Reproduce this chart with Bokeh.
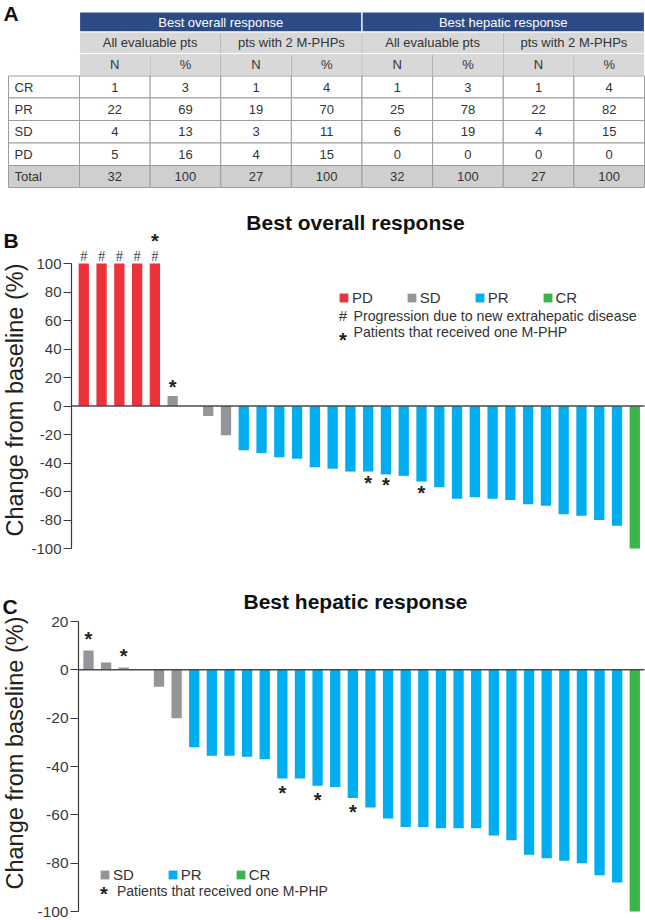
import math
from bokeh.plotting import figure
from bokeh.models import (Range1d, LinearAxis, FixedTicker, ColumnDataSource, Legend, LegendItem)
from bokeh.embed import file_html
from bokeh.resources import INLINE
from bokeh.core.properties import value

# ---------------- data ----------------
table_groups = ["Best overall response", "Best hepatic response"]
table_subgroups = ["All evaluable pts", "pts with 2 M-PHPs", "All evaluable pts", "pts with 2 M-PHPs"]
table_stats = ["N", "%", "N", "%", "N", "%", "N", "%"]
table_rows = ["CR", "PR", "SD", "PD", "Total"]
row_CR = [1, 3, 1, 4, 1, 3, 1, 4]
row_PR = [22, 69, 19, 70, 25, 78, 22, 82]
row_SD = [4, 13, 3, 11, 6, 19, 4, 15]
row_PD = [5, 16, 4, 15, 0, 0, 0, 0]
row_Total = [32, 100, 27, 100, 32, 100, 27, 100]

overall_values = [100, 100, 100, 100, 100, 7, 0, -7, -20.5,
                  -31, -33, -36, -37, -43, -44, -46, -46, -48, -49, -53,
                  -57, -65, -64, -65, -66, -69, -70, -76, -77, -80, -84,
                  -100]
overall_cats = ["PD"] * 5 + ["SD"] * 4 + ["PR"] * 22 + ["CR"]
overall_hash = [1, 2, 3, 4, 5]          # progression due to new extrahepatic disease
overall_star_above = [5, 6]             # patients that received one M-PHP
overall_star_below = [17, 18, 20]

hepatic_values = [8, 3, 1, 0, -7, -20,
                  -32, -35.5, -35.5, -36, -37, -45, -45, -48, -48.5, -53,
                  -57, -61.5, -65, -65, -65.5, -65.5, -65.5, -68.5, -70.5,
                  -76.5, -78, -79, -80, -85, -88,
                  -100]
hepatic_cats = ["SD"] * 6 + ["PR"] * 25 + ["CR"]
hepatic_star_above = [1, 3]
hepatic_star_below = [12, 14, 16]

overall_ticks = [-100, -80, -60, -40, -20, 0, 20, 40, 60, 80, 100]
overall_tick_labels = ["-100", "-80", "-60", "-40", "-20", "0", "20", "40", "60", "80", "100"]
hepatic_ticks = [-100, -80, -60, -40, -20, 0, 20]
hepatic_tick_labels = ["-100", "-80", "-60", "-40", "-20", "0", "20"]

cat_colors = {"PD": "#ED3239", "SD": "#939598", "PR": "#00AEEF", "CR": "#3BB54A"}

FONT = "Liberation Sans"
TXT = "#333333"
DARK = "#231F20"

# ---------------- canvas geometry (pixels) ----------------
X0, Y0, W, H = 0, 0, 645, 920
X1, Y1 = X0 + W, Y0 + H

# panel B / C mapping (axis line, first and last bar centres, value->pixel anchors)
B = dict(axis=71, slot1=83.3, slotN=634.3, vhi=100, vhi_px=263, vlo=-100, vlo_px=548)
C = dict(axis=78, slot1=88.0, slotN=634.3, vhi=20, vhi_px=621, vlo=-100, vlo_px=911)


def mapping(g, n):
    s = (g["slotN"] - g["slot1"]) / (n - 1)
    k = (g["vlo_px"] - g["vhi_px"]) / (g["vhi"] - g["vlo"])
    fx = lambda px: 1 + (px - g["slot1"]) / s
    fy = lambda py: g["vhi"] + (g["vhi_px"] - py) / k
    return s, fx, fy


sB, bx, by = mapping(B, len(overall_values))
sC, cx, cy = mapping(C, len(hepatic_values))

p = figure(width=W, height=H, x_range=Range1d(X0, X1), y_range=Range1d(Y1, Y0),
           output_backend="svg", toolbar_location=None, min_border=0,
           x_axis_type=None, y_axis_type=None)
p.outline_line_color = None
p.extra_x_ranges = {"xb": Range1d(bx(X0), bx(X1)), "xc": Range1d(cx(X0), cx(X1))}
p.extra_y_ranges = {"yb": Range1d(by(Y1), by(Y0)), "yc": Range1d(cy(Y1), cy(Y0))}


def ptext(x, y, text, size, align="left", color=TXT, font=FONT, style="normal", angle=0.0):
    p.text(x=x, y=y, text=text, text_align=align, text_baseline="middle", angle=angle,
           text_font=value(font), text_font_size=size, text_font_style=style, text_color=color)


# ---------------- table (panel A) ----------------
col0 = (8, 79)
cw = (644 - 79) / 8.0
cols = [(79 + k * cw, 79 + (k + 1) * cw) for k in range(8)]
h1 = (11.5, 31.5)
h2 = (31.5, 53)
h3 = (53, 75)
redges = [75.5, 97.5, 120, 142.5, 165, 187]

l1 = [cols[0][0], cols[4][0]]
r1 = [cols[3][1], cols[7][1]]
p.quad(left=l1, right=r1, top=[h1[0]] * 2, bottom=[h1[1]] * 2, fill_color="#2C4B85", line_color="white", line_width=1.2)
l2 = [cols[2 * g][0] for g in range(4)]
r2 = [cols[2 * g + 1][1] for g in range(4)]
p.quad(left=l2, right=r2, top=[h2[0]] * 4, bottom=[h2[1]] * 4, fill_color="#D8D8D8", line_color="white", line_width=1.2)
l3 = [c[0] for c in cols]
r3 = [c[1] for c in cols]
p.quad(left=l3, right=r3, top=[h3[0]] * 8, bottom=[h3[1]] * 8, fill_color="#D8D8D8", line_color="white", line_width=1.2)
p.segment(x0=l3[1:], x1=l3[1:], y0=[h3[0] + 1] * 7, y1=[h3[1]] * 7, line_color="#A8A8A8", line_width=1)
p.segment(x0=l2[1:], x1=l2[1:], y0=[h2[0] + 1] * 3, y1=[h2[1]] * 3, line_color="#A8A8A8", line_width=1)

body = [row_CR, row_PR, row_SD, row_PD, row_Total]
for i, name in enumerate(table_rows):
    top, bot = redges[i], redges[i + 1]
    fill = "#CFCFCF" if name == "Total" else "white"
    p.quad(left=[col0[0]] + l3, right=[col0[1]] + r3, top=[top] * 9, bottom=[bot] * 9,
           fill_color=fill, line_color="#9C9C9C", line_width=1)

ptext([(a + b) / 2 for a, b in zip(l1, r1)], [(h1[0] + h1[1]) / 2] * 2, table_groups, "13px", "center", "white")
ptext([(a + b) / 2 for a, b in zip(l2, r2)], [(h2[0] + h2[1]) / 2] * 4, table_subgroups, "13px", "center")
ptext([(a + b) / 2 for a, b in zip(l3, r3)], [(h3[0] + h3[1]) / 2] * 8, table_stats, "13px", "center")
for i, (name, vals) in enumerate(zip(table_rows, body)):
    yc_ = (redges[i] + redges[i + 1]) / 2
    ptext([14], [yc_], [name], "13px", "left")
    ptext([(a + b) / 2 for a, b in zip(l3, r3)], [yc_] * 8, [str(v) for v in vals], "13px", "center")

# panel letters, titles, y-axis labels
ptext([3], [12.5], ["A"], "21px", "left", "#111111", style="bold")
ptext([3], [239.5], ["B"], "21px", "left", "#111111", style="bold")
ptext([2], [605.5], ["C"], "21px", "left", "#111111", style="bold")
ptext([355], [221.5], ["Best overall response"], "21px", "center", "#111111", style="bold")
ptext([355], [601], ["Best hepatic response"], "21px", "center", "#111111", style="bold")
ptext([14.5, 14.5], [399.5, 752.5], ["Change from baseline (%)"] * 2, "23.5px", "center", DARK, angle=math.pi / 2)


# ---------------- waterfall panels ----------------
def panel(values, cats, g, s, rx, ry, ticks, tick_labels, bounds, tick_fs, leg_xy, leg_spacing):
    n = len(values)
    src = ColumnDataSource(dict(x=list(range(1, n + 1)), top=values,
                                color=[cat_colors[c] for c in cats], cat=cats))
    r = p.vbar(x="x", top="top", bottom=0, width=10.3 / s, fill_color="color", line_color=None,
               source=src, x_range_name=rx, y_range_name=ry)
    # zero line from the axis to the right edge
    p.segment(x0=[g["axis"]], x1=[644], y0=[0], y1=[0], y_range_name=ry, line_color="#4A4A4A", line_width=1.5)
    ax = LinearAxis(y_range_name=ry, fixed_location=g["axis"], bounds=bounds, ticker=FixedTicker(ticks=ticks),
                    major_label_overrides={t: l for t, l in zip(ticks, tick_labels)},
                    axis_line_color="#3A3A3A", axis_line_width=1.2,
                    major_tick_line_color="#3A3A3A", major_tick_line_width=1.2,
                    major_tick_out=8, major_tick_in=0, minor_tick_out=0, minor_tick_in=0,
                    major_label_text_font=FONT, major_label_text_font_size=tick_fs,
                    major_label_text_color="#3A3A3A", major_label_standoff=2)
    p.add_layout(ax, "left")
    order = list(dict.fromkeys(cats))
    items = [LegendItem(label=c, renderers=[r], index=cats.index(c)) for c in order]
    lg = Legend(items=items, orientation="horizontal", location=leg_xy,
                glyph_width=11, glyph_height=11, label_height=11, label_standoff=3,
                spacing=leg_spacing, padding=0, margin=0, border_line_color=None,
                background_fill_alpha=0, label_text_font=FONT, label_text_font_size="15px",
                label_text_color=TXT)
    p.add_layout(lg)
    return r


def stars(idx, values, offs, rx, ry):
    p.text(x=idx, y=[values[i - 1] for i in idx], text=["*"] * len(idx), y_offset=offs,
           x_range_name=rx, y_range_name=ry, text_align="center", text_baseline="middle",
           text_font=value(FONT), text_font_size="20px", text_font_style="bold", text_color=DARK)


panel(overall_values, overall_cats, B, sB, "xb", "yb", overall_ticks, overall_tick_labels, (-100, 100), "15px",
      (338 - X0, Y1 - 305.5), 33)
panel(hepatic_values, hepatic_cats, C, sC, "xc", "yc", hepatic_ticks, hepatic_tick_labels, (-100, 20), "15.5px",
      (99 - X0, Y1 - 882.5), 33)

# '#' markers above progressing bars
p.text(x=overall_hash, y=[overall_values[i - 1] for i in overall_hash], text=["#"] * len(overall_hash),
       y_offset=-7.5, x_range_name="xb", y_range_name="yb", text_align="center", text_baseline="middle",
       text_font=value("Liberation Serif"), text_font_size="14.5px", text_color="#444444")
stars(overall_star_above, overall_values,
      [-22.5 if i in overall_hash else -9.5 for i in overall_star_above], "xb", "yb")
stars(overall_star_below, overall_values, [11] * len(overall_star_below), "xb", "yb")
stars(hepatic_star_above, hepatic_values, [-11.5] * len(hepatic_star_above), "xc", "yc")
stars(hepatic_star_below, hepatic_values, [14] * len(hepatic_star_below), "xc", "yc")

# legend notes
ptext([342.5], [315], ["#"], "15px", "center")
ptext([353], [315], ["Progression due to new extrahepatic disease"], "14.2px", "left")
ptext([342.5], [339], ["*"], "20px", "center", DARK, style="bold")
ptext([353], [331.7], ["Patients that received one M-PHP"], "14.2px", "left")
ptext([103.5], [893], ["*"], "20px", "center", DARK, style="bold")
ptext([116.5], [890], ["Patients that received one M-PHP"], "14px", "left")

open("out.html", "w").write(file_html(p, INLINE))
